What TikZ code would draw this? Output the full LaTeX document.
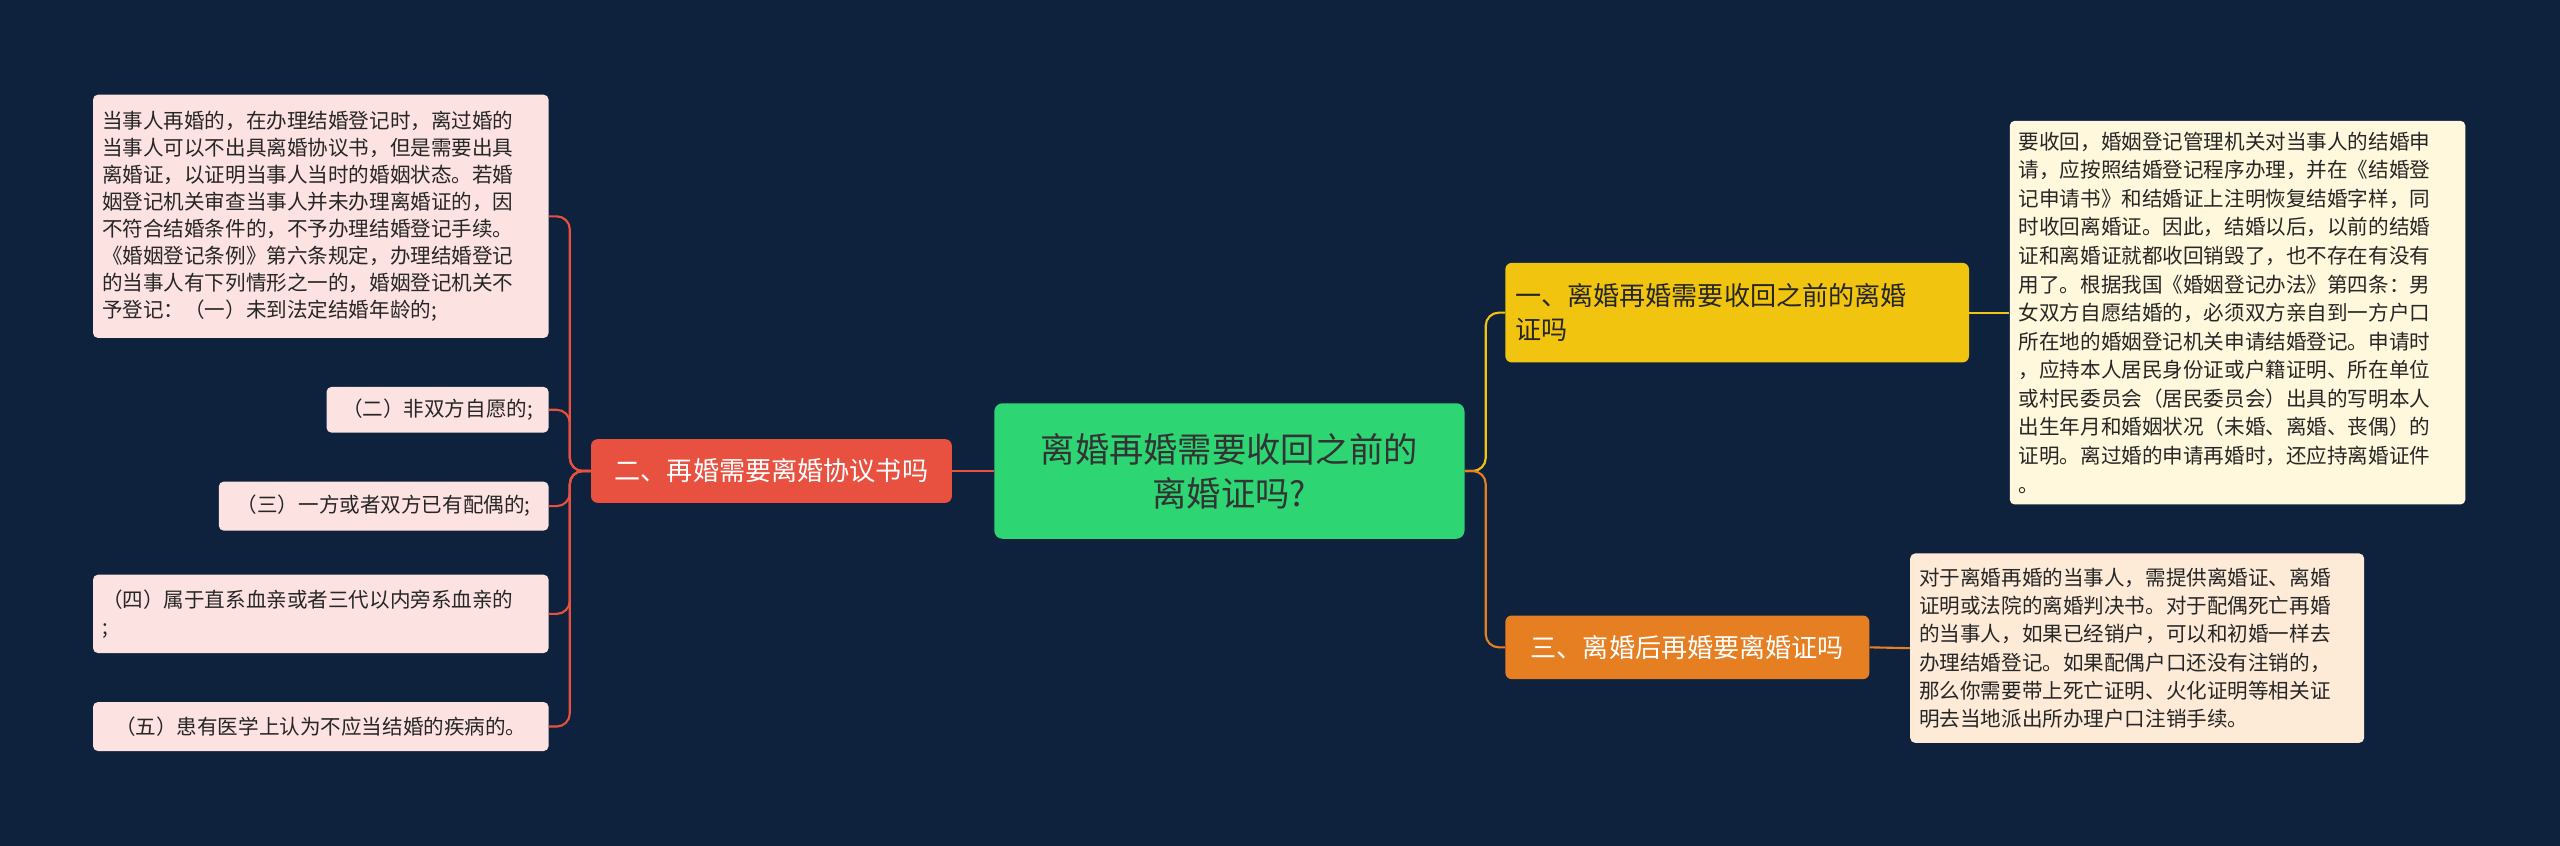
\documentclass[tikz,border=0pt]{standalone}
\usepackage{fontspec}
\setmainfont{Noto Sans CJK SC}
\begin{document}
\begin{tikzpicture}[x=1pt,y=-1pt,
 leaf/.style={rounded corners=3pt,inner sep=0pt,align=left,font=\fontsize{12.6}{16.6}\selectfont,text=black!85},
 br/.style={rounded corners=4pt,inner sep=0pt,align=left,font=\fontsize{16}{21}\selectfont},
 con/.style={line width=1.3pt,rounded corners=8pt}]
\fill[fill={rgb,255:red,14;green,34;blue,62}] (0,0) rectangle (1568,518);
\useasboundingbox (0,0) rectangle (1568,518);
\node[rounded corners=5pt,fill={rgb,255:red,46;green,213;blue,115},minimum width=288,minimum height=83,align=center,font=\fontsize{21}{27}\selectfont,text=black!80] (c) at (753,288.5) {离婚再婚需要收回之前的\\离婚证吗?};
\node[br,fill={rgb,255:red,232;green,80;blue,64},text=white,minimum width=221,minimum height=39,align=center] (b2) at (472.5,288.5) {二、再婚需要离婚协议书吗};
\node[br,fill={rgb,255:red,241;green,196;blue,15},text=black!85,minimum width=284,minimum height=61,text width=272] (b1) at (1064,191.5) {一、离婚再婚需要收回之前的离婚\\证吗};
\node[br,fill={rgb,255:red,230;green,126;blue,34},text=white,minimum width=223,minimum height=39,align=center] (b3) at (1033.5,396.5) {三、离婚后再婚要离婚证吗};
\tikzset{pk/.style={leaf,fill={rgb,255:red,253;green,226;blue,226}}}
\node[pk,minimum width=279,minimum height=149,text width=268] (l1) at (196.5,132.5) {当事人再婚的，在办理结婚登记时，离过婚的\\当事人可以不出具离婚协议书，但是需要出具\\离婚证，以证明当事人当时的婚姻状态。若婚\\姻登记机关审查当事人并未办理离婚证的，因\\不符合结婚条件的，不予办理结婚登记手续。\\《婚姻登记条例》第六条规定，办理结婚登记\\的当事人有下列情形之一的，婚姻登记机关不\\予登记：（一）未到法定结婚年龄的;};
\node[pk,minimum width=136,minimum height=28,align=center] (l2) at (268,251) {（二）非双方自愿的;};
\node[pk,minimum width=202,minimum height=30,align=center] (l3) at (235,310) {（三）一方或者双方已有配偶的;};
\node[pk,minimum width=279,minimum height=48,text width=268] (l4) at (196.5,376) {（四）属于直系血亲或者三代以内旁系血亲的\\;};
\node[pk,minimum width=279,minimum height=30,align=center] (l5) at (196.5,445) {（五）患有医学上认为不应当结婚的疾病的。};
\node[leaf,fill={rgb,255:red,255;green,248;blue,220},minimum width=279,minimum height=235,text width=268,font=\fontsize{12.6}{17.5}\selectfont] (r1) at (1370.5,191.5) {要收回，婚姻登记管理机关对当事人的结婚申\\请，应按照结婚登记程序办理，并在《结婚登\\记申请书》和结婚证上注明恢复结婚字样，同\\时收回离婚证。因此，结婚以后，以前的结婚\\证和离婚证就都收回销毁了，也不存在有没有\\用了。根据我国《婚姻登记办法》第四条：男\\女双方自愿结婚的，必须双方亲自到一方户口\\所在地的婚姻登记机关申请结婚登记。申请时\\，应持本人居民身份证或户籍证明、所在单位\\或村民委员会（居民委员会）出具的写明本人\\出生年月和婚姻状况（未婚、离婚、丧偶）的\\证明。离过婚的申请再婚时，还应持离婚证件\\。};
\node[leaf,fill={rgb,255:red,253;green,235;blue,216},minimum width=278,minimum height=116,text width=267,font=\fontsize{12.6}{17.2}\selectfont] (r2) at (1309,397) {对于离婚再婚的当事人，需提供离婚证、离婚\\证明或法院的离婚判决书。对于配偶死亡再婚\\的当事人，如果已经销户，可以和初婚一样去\\办理结婚登记。如果配偶户口还没有注销的，\\那么你需要带上死亡证明、火化证明等相关证\\明去当地派出所办理户口注销手续。};
\coordinate (jl) at (349,288.5);
\coordinate (jr) at (910,288.5);
\begin{scope}[on background layer/.style={}]
\draw[con,draw={rgb,255:red,232;green,80;blue,64}] (c.west) -- (b2.east);
\foreach \n in {l1,l2,l3,l4,l5}{\draw[con,draw={rgb,255:red,232;green,80;blue,64}] (b2.west) -- (jl) |- (\n.east);}
\draw[con,draw={rgb,255:red,241;green,196;blue,15}] (c.east) -- (jr) |- (b1.west);
\draw[con,draw={rgb,255:red,230;green,126;blue,34}] (c.east) -- (jr) |- (b3.west);
\draw[con,draw={rgb,255:red,241;green,196;blue,15}] (b1.east) -- (r1.west);
\draw[con,draw={rgb,255:red,230;green,126;blue,34}] (b3.east) -- (r2.west);
\end{scope}
\end{tikzpicture}
\end{document}
